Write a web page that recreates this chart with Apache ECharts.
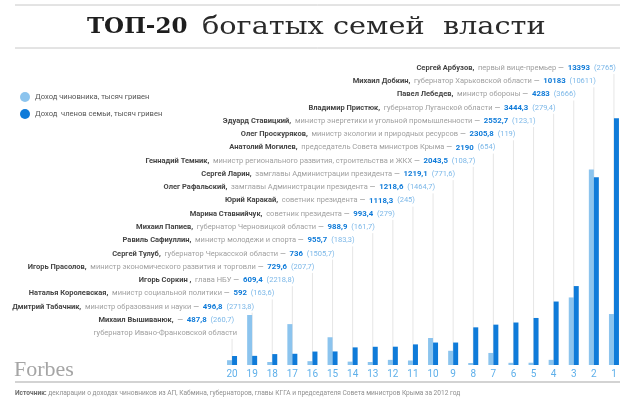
<!DOCTYPE html>
<html>
<head>
<meta charset="utf-8">
<script src="https://cdn.jsdelivr.net/npm/echarts@6/dist/echarts.min.js"></script>
<style>
  html, body { margin: 0; padding: 0; background: #fff; }
  #chart { width: 634px; height: 403px; }
</style>
</head>
<body>
<div id="chart"></div>
<script>
// rank order: 1 .. 20
const ranks = [1, 2, 3, 4, 5, 6, 7, 8, 9, 10, 11, 12, 13, 14, 15, 16, 17, 18, 19, 20];
const names = [
  "Сергей Арбузов,", "Михаил Добкин,", "Павел Лебедев,", "Владимир Пристюк,",
  "Эдуард Ставицкий,", "Олег Проскуряков,", "Анатолий Могилев,", "Геннадий Темник,",
  "Сергей Ларин,", "Олег Рафальский,", "Юрий Каракай,", "Марина Ставнийчук,",
  "Михаил Папиев,", "Равиль Сафиуллин,", "Сергей Тулуб,", "Игорь Прасолов,",
  "Игорь Соркин ,", "Наталья Королевская,", "Дмитрий Табачник,", "Михаил Вышиванюк,"
];
const roles = [
  "первый вице-премьер", "губернатор Харьковской области", "министр обороны",
  "губернатор Луганской области", "министр энергетики и угольной промышленности",
  "министр экологии и природных ресурсов", "председатель Совета министров Крыма",
  "министр регионального развития, строительства и ЖКХ",
  "замглавы Администрации президента", "замглавы Администрации президента",
  "советник президента", "советник президента", "губернатор Черновицкой области",
  "министр молодежи и спорта", "губернатор Черкасской области",
  "министр экономического развития и торговли", "глава НБУ",
  "министр социальной политики", "министр образования и науки",
  "губернатор Ивано-Франковской области"
];
// bold value (dark bars)
const familyIncome = [13393, 10183, 4283, 3444.3, 2552.7, 2305.8, 2190, 2043.5, 1219.1, 1218.6,
  1118.3, 993.4, 988.9, 955.7, 736, 729.6, 609.4, 592, 496.8, 487.8];
// value in brackets (light bars)
const officialIncome = [2765, 10611, 3666, 279.4, 123.1, 119, 654, 108.7, 771.6, 1464.7,
  245, 279, 161.7, 183.3, 1505.7, 207.7, 2218.8, 163.6, 2713.8, 260.7];

const legendNames = ["Доход чиновника, тысяч гривен", "Доход  членов семьи, тысяч гривен"];

const LIGHT = "#8cc4ee";
const DARK = "#0f7bd9";
const FONT = "Roboto";

// axis runs 20 -> 1
const order = ranks.map((r, i) => i).reverse();
const categories = order.map(i => String(ranks[i]));

const fmt = v => String(v).replace(".", ",");

const rowTop = 68;
const rowStep = 13.26;

const chart = echarts.init(document.getElementById("chart"));

function renderLabel(params, api) {
  const idx = order[api.value(0)];
  const pt = api.coord([api.value(0), 0]);
  const x = pt[0];
  const base = pt[1];
  const y = rowTop + idx * rowStep;
  const last = idx === ranks.length - 1;
  const role = last ? "" : roles[idx] + " ";
  const text = "{n|" + names[idx] + "  }{r|" + role + "}{d|—  }{v|" + fmt(familyIncome[idx]) +
    "  }{p|(" + fmt(officialIncome[idx]) + ")}";
  const rich = {
    n: { fontWeight: "bold", fill: "#454545", fontSize: 7.5, fontFamily: FONT },
    r: { fill: "#a0a0a0", fontSize: 7.5, fontFamily: FONT },
    d: { fill: "#8a8a8a", fontSize: 7.5, fontFamily: FONT },
    v: { fontWeight: "bold", fill: DARK, fontSize: 7.8, fontFamily: FONT },
    p: { fill: "#7db8e8", fontSize: 7.5, fontFamily: FONT }
  };
  const children = [
    {
      type: "line",
      shape: { x1: x, y1: y + (last ? 19 : 6), x2: x, y2: base },
      style: { stroke: "#e6e6e6", lineWidth: 1 },
      z2: 0
    },
    {
      type: "text",
      style: {
        text: text, rich: rich, x: x + 2, y: y, align: "right", verticalAlign: "middle",
        fontSize: 7.5, fontFamily: FONT
      },
      z2: 10
    }
  ];
  if (last) {
    children.push({
      type: "text",
      style: {
        text: roles[idx], x: x + 5, y: y + 13, align: "right", verticalAlign: "middle",
        fill: "#a0a0a0", fontSize: 7.5, fontFamily: FONT
      },
      z2: 10
    });
  }
  return { type: "group", children: children };
}

const option = {
  animation: false,
  grid: { left: 222, right: 10, top: 107, bottom: 38 },
  graphic: [
    { type: "line", shape: { x1: 15, y1: 5, x2: 620, y2: 5 }, style: { stroke: "#c8c8c8", lineWidth: 1 } },
    { type: "line", shape: { x1: 15, y1: 48, x2: 620, y2: 48 }, style: { stroke: "#c8c8c8", lineWidth: 1 } },
    {
      type: "text", x: 87, y: 27,
      style: {
        text: "ТОП-20", fill: "#1e1e1e", font: "bold 23px 'DejaVu Serif'",
        verticalAlign: "middle"
      }
    },
    {
      type: "text", x: 202, y: 27, scaleX: 1.15,
      style: {
        text: "богатых семей  власти", fill: "#2a2a2a", font: "25px 'DejaVu Serif'",
        verticalAlign: "middle"
      }
    },
    {
      type: "text", x: 14, y: 370,
      style: {
        text: "Forbes", fill: "#a5a5a5", font: "22px 'Liberation Serif'",
        verticalAlign: "middle"
      }
    },
    { type: "line", shape: { x1: 15, y1: 382, x2: 620, y2: 382 }, style: { stroke: "#c4c4c4", lineWidth: 1.5 } },
    {
      type: "text", x: 15, y: 393,
      style: {
        text: "{b|Источник:} декларации о доходах чиновников из АП, Кабмина, губернаторов, главы КГГА и председателя Совета министров Крыма за 2012 год",
        fill: "#8f8f8f", fontSize: 6.6, fontFamily: FONT, verticalAlign: "middle",
        rich: { b: { fontWeight: "bold", fill: "#6a6a6a", fontSize: 6.6, fontFamily: FONT } }
      }
    }
  ],
  legend: {
    orient: "vertical",
    left: 20,
    top: 92,
    padding: 0,
    itemGap: 7,
    itemWidth: 10,
    itemHeight: 10,
    icon: "circle",
    textStyle: { fontFamily: FONT, fontSize: 7.6, color: "#555" },
    data: legendNames
  },
  xAxis: {
    type: "category",
    data: categories,
    axisLine: { show: false },
    axisTick: { show: false },
    axisLabel: { color: "#5fb0ea", fontSize: 10, fontFamily: FONT, margin: 4 }
  },
  yAxis: {
    type: "value",
    min: 0,
    max: 14000,
    show: false,
    splitLine: { show: false }
  },
  series: [
    {
      type: "custom",
      renderItem: renderLabel,
      clip: false,
      silent: true,
      z: 1,
      data: order.map((i, k) => [k])
    },
    {
      name: legendNames[0],
      type: "bar",
      barWidth: 5,
      barGap: "0%",
      z: 3,
      itemStyle: { color: LIGHT },
      data: order.map(i => officialIncome[i])
    },
    {
      name: legendNames[1],
      type: "bar",
      barWidth: 5,
      barGap: "0%",
      z: 3,
      itemStyle: { color: DARK },
      data: order.map(i => familyIncome[i])
    }
  ]
};

chart.setOption(option);
</script>
</body>
</html>
